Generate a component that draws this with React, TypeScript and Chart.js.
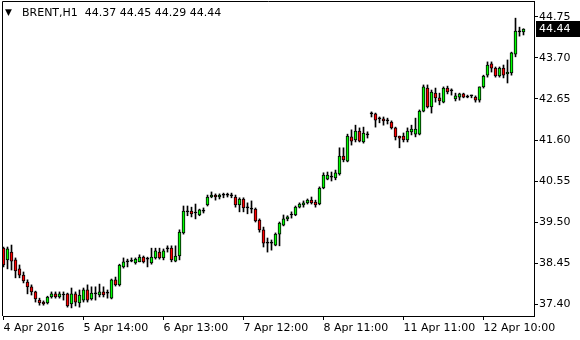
import React, { useEffect, useRef } from "react";
import { Chart, registerables } from "chart.js";
Chart.register(...registerables);

const symbolName = "BRENT,H1";

const opens = [
  38.83, 38.53, 38.73, 38.53, 38.30, 38.14, 37.96, 37.84, 37.71, 37.50,
  37.45, 37.43, 37.58, 37.66, 37.58, 37.63, 37.66, 37.40, 37.66, 37.43,
  37.50, 37.76, 37.53, 37.66, 37.63, 37.71, 37.68, 37.55, 38.02, 37.89,
  38.35, 38.48, 38.50, 38.45, 38.48, 38.60, 38.55, 38.45, 38.58, 38.73,
  38.58, 38.81, 38.83, 38.50, 38.63, 39.22, 39.76, 39.78, 39.73, 39.68,
  39.78, 39.94, 40.14, 40.19, 40.14, 40.19, 40.19, 40.17, 40.14, 39.94,
  40.09, 39.86, 39.83, 39.83, 39.55, 39.30, 38.96, 38.96, 38.91, 39.19,
  39.42, 39.58, 39.68, 39.68, 39.88, 39.94, 39.99, 40.06, 40.01, 39.96,
  40.37, 40.60, 40.65, 40.63, 40.73, 41.19, 41.06, 41.68, 41.60, 41.83,
  41.55, 41.73, 42.27, 42.27, 42.14, 42.14, 42.09, 42.06, 41.91, 41.70,
  41.70, 41.60, 41.81, 41.75, 41.75, 42.34, 42.93, 42.45, 42.80, 42.68,
  42.57, 42.93, 42.86, 42.65, 42.70, 42.78, 42.70, 42.73, 42.70, 42.62,
  42.96, 43.26, 43.55, 43.44, 43.24, 43.44, 43.29, 43.32, 43.80, 44.37,
  44.37,
];
const highs = [
  38.86, 38.86, 38.91, 38.58, 38.40, 38.22, 38.02, 37.89, 37.73, 37.55,
  37.48, 37.60, 37.71, 37.71, 37.71, 37.71, 37.68, 37.81, 37.71, 37.76,
  37.81, 37.89, 37.84, 37.84, 37.91, 37.84, 37.76, 38.04, 38.09, 38.42,
  38.58, 38.55, 38.58, 38.58, 38.66, 38.63, 38.60, 38.83, 38.83, 38.83,
  38.81, 38.89, 38.89, 38.89, 39.30, 39.91, 39.91, 39.88, 39.96, 39.83,
  39.86, 40.19, 40.27, 40.22, 40.22, 40.24, 40.24, 40.24, 40.19, 40.12,
  40.12, 39.99, 40.04, 39.86, 39.58, 39.37, 39.09, 39.04, 39.22, 39.50,
  39.68, 39.66, 39.76, 39.91, 39.99, 40.04, 40.09, 40.14, 40.06, 40.40,
  40.76, 40.78, 40.78, 40.83, 41.40, 41.40, 41.75, 41.86, 41.98, 41.91,
  41.93, 41.81, 42.32, 42.29, 42.19, 42.19, 42.16, 42.09, 41.93, 41.70,
  41.78, 41.91, 41.98, 42.16, 42.37, 43.01, 43.01, 42.88, 42.93, 42.80,
  42.96, 42.98, 42.91, 42.80, 42.80, 42.80, 42.75, 42.75, 42.73, 42.96,
  43.26, 43.60, 43.60, 43.47, 43.47, 43.52, 43.65, 43.85, 44.72, 44.49,
  44.45,
];
const lows = [
  38.35, 38.30, 38.27, 38.07, 38.07, 37.94, 37.66, 37.63, 37.45, 37.37,
  37.37, 37.40, 37.55, 37.55, 37.55, 37.50, 37.32, 37.30, 37.35, 37.32,
  37.45, 37.45, 37.50, 37.50, 37.58, 37.58, 37.55, 37.53, 37.86, 37.86,
  38.32, 38.35, 38.48, 38.42, 38.48, 38.45, 38.35, 38.42, 38.55, 38.55,
  38.53, 38.73, 38.48, 38.48, 38.53, 39.19, 39.66, 39.63, 39.58, 39.66,
  39.73, 39.91, 40.12, 40.06, 40.09, 40.12, 40.14, 40.12, 39.88, 39.76,
  39.76, 39.71, 39.73, 39.50, 39.24, 38.86, 38.73, 38.78, 38.89, 38.89,
  39.40, 39.53, 39.60, 39.66, 39.86, 39.88, 39.96, 39.96, 39.88, 39.94,
  40.35, 40.58, 40.55, 40.58, 40.70, 41.04, 41.04, 41.47, 41.55, 41.55,
  41.52, 41.65, 42.19, 41.93, 42.04, 41.98, 42.01, 41.88, 41.60, 41.40,
  41.55, 41.55, 41.73, 41.68, 41.73, 42.32, 42.42, 42.29, 42.57, 42.50,
  42.55, 42.78, 42.75, 42.60, 42.62, 42.68, 42.68, 42.68, 42.57, 42.57,
  42.93, 43.21, 43.34, 43.21, 43.21, 43.19, 43.06, 43.26, 43.73, 44.26,
  44.29,
];
const closes = [
  38.40, 38.81, 38.50, 38.25, 38.14, 37.99, 37.84, 37.71, 37.53, 37.43,
  37.40, 37.58, 37.66, 37.58, 37.66, 37.63, 37.35, 37.66, 37.45, 37.63,
  37.76, 37.50, 37.68, 37.66, 37.71, 37.63, 37.68, 38.02, 37.89, 38.40,
  38.48, 38.48, 38.50, 38.55, 38.60, 38.48, 38.55, 38.60, 38.76, 38.58,
  38.76, 38.81, 38.53, 38.63, 39.24, 39.78, 39.76, 39.71, 39.73, 39.81,
  39.78, 40.14, 40.19, 40.14, 40.19, 40.19, 40.19, 40.17, 39.94, 40.09,
  39.86, 39.86, 39.83, 39.53, 39.30, 38.96, 38.96, 38.96, 39.19, 39.47,
  39.58, 39.63, 39.68, 39.88, 39.96, 39.99, 40.06, 39.99, 39.94, 40.37,
  40.70, 40.70, 40.65, 40.76, 41.19, 41.09, 41.70, 41.57, 41.83, 41.57,
  41.78, 41.73, 42.27, 42.11, 42.14, 42.09, 42.09, 41.91, 41.68, 41.65,
  41.60, 41.83, 41.88, 41.88, 42.34, 42.96, 42.45, 42.83, 42.68, 42.60,
  42.93, 42.83, 42.86, 42.73, 42.78, 42.70, 42.70, 42.73, 42.62, 42.96,
  43.24, 43.52, 43.44, 43.24, 43.44, 43.26, 43.34, 43.83, 44.39, 44.37,
  44.44,
];

const xTickIndex = [0, 20, 40, 60, 80, 100, 120];
const xTickLabels = [
  "4 Apr 2016",
  "5 Apr 14:00",
  "6 Apr 13:00",
  "7 Apr 12:00",
  "8 Apr 11:00",
  "11 Apr 11:00",
  "12 Apr 10:00",
];
const priceTicks = [37.4, 38.45, 39.5, 40.55, 41.6, 42.65, 43.7, 44.75];

const UP = "#00ff00";
const DOWN = "#ff0000";
const FONT = "'DejaVu Sans', sans-serif";

export default function App() {
  const ref = useRef<HTMLCanvasElement>(null);

  useEffect(() => {
    if (!ref.current) return;
    const bodies = opens.map((o, i) => ({
      x: i,
      y: [Math.min(o, closes[i]), Math.max(o, closes[i])],
    }));
    const wicks = opens.map((_, i) => ({ x: i, y: [lows[i], highs[i]] }));
    const colors = opens.map((o, i) =>
      closes[i] > o ? UP : closes[i] < o ? DOWN : "#000000"
    );
    const last = opens.length - 1;

    const framePlugin = {
      id: "mtframe",
      afterDraw(chart: any) {
        const { ctx, chartArea } = chart;
        const y = chart.scales.y;
        ctx.save();
        ctx.strokeStyle = "#000";
        ctx.lineWidth = 1;
        ctx.beginPath();
        ctx.moveTo(chartArea.left - 0.5, chartArea.bottom);
        ctx.lineTo(chartArea.left - 0.5, chartArea.top - 0.5);
        ctx.lineTo(chartArea.right + 1, chartArea.top - 0.5);
        ctx.stroke();

        // header
        ctx.fillStyle = "#000";
        ctx.textBaseline = "middle";
        ctx.textAlign = "left";
        ctx.font = `9px ${FONT}`;
        ctx.fillText("▼", 5, 13);
        ctx.font = `11px ${FONT}`;
        const hdr = `${symbolName}  ${opens[last].toFixed(2)} ${highs[last].toFixed(2)} ${lows[last].toFixed(2)} ${closes[last].toFixed(2)}`;
        ctx.fillText(hdr, 22, 13);

        // last price box
        const py = Math.round(y.getPixelForValue(closes[last]));
        ctx.fillStyle = "#000";
        ctx.fillRect(chartArea.right + 2, py - 8, 580 - chartArea.right - 2, 16);
        ctx.fillStyle = "#fff";
        ctx.fillText(closes[last].toFixed(2), chartArea.right + 5, py);
        ctx.restore();
      },
    };

    const chart = new Chart(ref.current, {
      type: "bar",
      data: {
        datasets: [
          {
            label: "body",
            data: bodies as any,
            backgroundColor: colors,
            borderColor: "#000",
            borderWidth: 1,
            borderSkipped: false,
            barThickness: 3,
            minBarLength: 1,
            grouped: false,
            order: 0,
          } as any,
          {
            label: "wick",
            data: wicks as any,
            backgroundColor: "#000",
            borderWidth: 0,
            barThickness: 1,
            grouped: false,
            order: 1,
          } as any,
        ],
      },
      options: {
        animation: false,
        responsive: false,
        devicePixelRatio: 1,
        layout: { padding: { left: 3, top: 2, right: 0, bottom: 0 } },
        plugins: {
          legend: { display: false },
          tooltip: { enabled: false },
          title: { display: false },
        },
        scales: {
          x: {
            type: "linear",
            position: "bottom",
            offset: false,
            min: -0.125,
            max: 132.625,
            grid: {
              display: true,
              offset: false,
              drawOnChartArea: false,
              drawTicks: true,
              tickLength: 4,
              color: "#000",
            },
            border: { display: true, color: "#000" },
            ticks: {
              autoSkip: false,
              align: "start",
              maxRotation: 0,
              padding: 2,
              color: "#000",
              font: { family: FONT, size: 11 },
              callback: (_v: any, i: number) => xTickLabels[i] ?? "",
            },
            afterBuildTicks: (axis: any) => {
              axis.ticks = xTickIndex.map((v) => ({ value: v }));
            },
            afterFit: (axis: any) => {
              axis.height = 24;
              axis.paddingLeft = 0;
              axis.paddingRight = 0;
            },
          } as any,
          y: {
            type: "linear",
            position: "right",
            min: 37.093,
            max: 45.134,
            grid: {
              display: true,
              drawOnChartArea: false,
              drawTicks: true,
              tickLength: 4,
              color: "#000",
            },
            border: { display: true, color: "#000" },
            ticks: {
              padding: 1,
              color: "#000",
              font: { family: FONT, size: 11 },
              callback: (v: any) => Number(v).toFixed(2),
            },
            afterBuildTicks: (axis: any) => {
              axis.ticks = priceTicks.map((v) => ({ value: v }));
            },
            afterFit: (axis: any) => {
              axis.width = 46;
              axis.paddingTop = 0;
              axis.paddingBottom = 0;
            },
          } as any,
        },
      },
      plugins: [framePlugin],
    });
    return () => chart.destroy();
  }, []);

  return (
    <div
      style={{
        position: "fixed",
        left: 0,
        top: 0,
        width: 580,
        height: 340,
        background: "#fff",
      }}
    >
      <canvas ref={ref} width={580} height={340} style={{ display: "block" }} />
    </div>
  );
}
